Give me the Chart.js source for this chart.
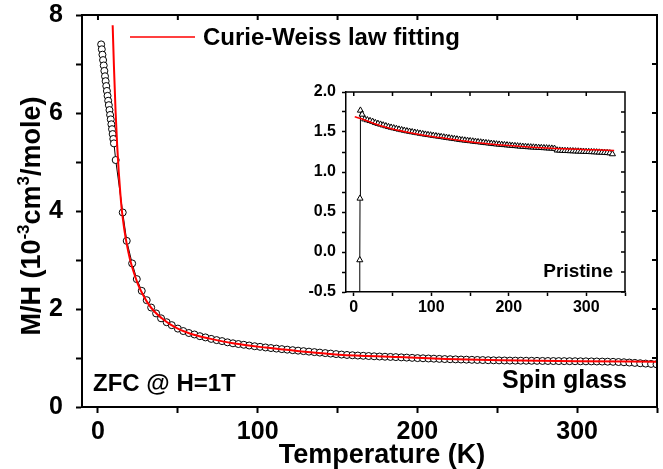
<!DOCTYPE html>
<html>
<head>
<meta charset="utf-8">
<script src="https://cdn.jsdelivr.net/npm/chart.js@4"></script>
<style>
  body { margin: 0; background: #fff; }
  #wrap { position: relative; width: 663px; height: 469px; }
  #main { position: absolute; left: 0; top: 0; }
  #inset { position: absolute; left: 290px; top: 80px; }
</style>
</head>
<body>
<div id="wrap">
  <canvas id="main" width="663" height="469"></canvas>
  <canvas id="inset" width="345" height="240"></canvas>
</div>
<script>
// ZFC M/H (10^-3 cm^3/mole) vs temperature (K), spin glass sample
const zfcTemp = [2.0, 2.4, 2.8, 3.2, 3.6, 4.0, 4.4, 4.8, 5.2, 5.6, 6.0, 6.4, 6.8, 7.2, 7.6, 8.0, 8.4, 8.8, 9.2, 9.6, 10.0,
  11.1, 15.5, 18.0, 21.4, 24.3, 27.4, 30.5, 33.3, 36.4, 39.5, 43.0, 46.2, 50.0, 53.4, 56.9, 60.4, 63.8, 67.3, 70.9,
  74.3, 77.7, 81.1, 84.5, 87.9, 91.3, 94.7, 98.1, 101.5, 104.9, 108.3, 111.7, 115.1, 118.5, 121.9, 125.3, 128.7, 132.1,
  135.5, 138.9, 142.3, 145.7, 149.1, 152.5, 155.9, 159.3, 162.7, 166.1, 169.5, 172.9, 176.3, 179.7, 183.1, 186.5,
  189.9, 193.3, 196.7, 200.1, 203.5, 206.9, 210.3, 213.7, 217.1, 220.5, 223.9, 227.3, 230.7, 234.1, 237.5, 240.9,
  244.3, 247.7, 251.1, 254.5, 257.9, 261.3, 264.7, 268.1, 271.5, 274.9, 278.3, 281.7, 285.1, 288.5, 291.9, 295.3,
  298.7, 302.1, 305.5, 308.9, 312.3, 315.7, 319.1, 322.5, 325.9, 329.3, 332.7, 336.1, 339.5, 342.9, 346.3, 349.7];
const zfcMH = [7.40, 7.30, 7.19, 7.08, 6.97, 6.86, 6.75, 6.65, 6.55, 6.45, 6.35, 6.25, 6.16, 6.06, 5.96, 5.87, 5.77, 5.67, 5.57, 5.47, 5.38,
  5.04, 3.97, 3.39, 2.93, 2.61, 2.37, 2.18, 2.03, 1.91, 1.81, 1.73, 1.67, 1.60, 1.55, 1.51, 1.48, 1.445, 1.42, 1.39,
  1.365, 1.345, 1.32, 1.30, 1.285, 1.27, 1.255, 1.24, 1.228, 1.215, 1.203, 1.192, 1.181, 1.17, 1.16, 1.15, 1.14, 1.13,
  1.12, 1.11, 1.10, 1.09, 1.08, 1.07, 1.062, 1.056, 1.05, 1.045, 1.04, 1.035, 1.03, 1.026, 1.022, 1.018,
  1.013, 1.008, 1.003, 0.998, 0.994, 0.99, 0.986, 0.982, 0.978, 0.975, 0.972, 0.969, 0.966, 0.963, 0.96, 0.958,
  0.955, 0.953, 0.951, 0.949, 0.947, 0.946, 0.945, 0.944, 0.943, 0.942, 0.94, 0.939, 0.938, 0.937, 0.936, 0.935,
  0.934, 0.933, 0.932, 0.931, 0.929, 0.927, 0.925, 0.922, 0.918, 0.913, 0.907, 0.90, 0.893, 0.886, 0.879, 0.872];

// Curie-Weiss fit (red)
const fitTemp = [9.2, 10.0, 11.0, 12.0, 13.0, 14.0, 15.0, 16.5, 18.0, 20.0, 22.0, 25.0, 28.0, 31.0, 35.0, 40.0, 45.0, 50.0,
  55.0, 60.0, 70.0, 84.5, 105, 126, 151, 185, 218, 252, 300, 350];
const fitMH = [7.79, 6.95, 6.05, 5.35, 4.80, 4.36, 4.00, 3.62, 3.33, 3.02, 2.79, 2.51, 2.30, 2.13, 1.96, 1.81, 1.69, 1.60,
  1.53, 1.475, 1.395, 1.30, 1.212, 1.14, 1.068, 1.022, 0.982, 0.952, 0.936, 0.925];

// inset: pristine sample
const pristineTemp = [7.5, 7.8, 8.1, 8.6, 10.8,
  14.2, 17.6, 21.0, 24.4, 27.8, 31.2, 34.6, 38.0, 41.4, 44.8, 48.2, 51.6, 55.0, 58.4, 61.8, 65.2, 68.6, 72.0, 75.4, 78.8,
  82.2, 85.6, 89.0, 92.4, 95.8, 99.2, 102.6, 106.0, 109.4, 112.8, 116.2, 119.6, 123.0, 126.4, 129.8, 133.2, 136.6, 140.0,
  143.4, 146.8, 150.2, 153.6, 157.0, 160.4, 163.8, 167.2, 170.6, 174.0, 177.4, 180.8, 184.2, 187.6, 191.0, 194.4, 197.8,
  201.2, 204.6, 208.0, 211.4, 214.8, 218.2, 221.6, 225.0, 228.4, 231.8, 235.2, 238.6, 242.0, 245.4, 248.8, 252.2, 255.6,
  259.0, 262.4, 265.8, 269.2, 272.6, 276.0, 279.4, 282.8, 286.2, 289.6, 293.0, 296.4, 299.8, 303.2, 306.6, 310.0, 313.4,
  316.8, 320.2, 323.6, 327.0, 330.4, 333.8];
const pristineMH = [-1.2, -0.1, 0.67, 1.77, 1.72,
  1.66, 1.65, 1.64, 1.63, 1.615, 1.605, 1.595, 1.585, 1.575, 1.565, 1.557, 1.549, 1.541, 1.533, 1.526, 1.519, 1.512, 1.506, 1.50, 1.494,
  1.488, 1.482, 1.476, 1.47, 1.465, 1.46, 1.455, 1.45, 1.445, 1.44, 1.435, 1.43, 1.425, 1.42, 1.415, 1.41, 1.405, 1.40,
  1.396, 1.392, 1.388, 1.384, 1.38, 1.376, 1.372, 1.368, 1.364, 1.36, 1.356, 1.352, 1.348, 1.345, 1.342, 1.339, 1.336,
  1.333, 1.33, 1.327, 1.324, 1.321, 1.318, 1.316, 1.313, 1.311, 1.309, 1.307, 1.305, 1.303, 1.301, 1.299, 1.297, 1.295,
  1.293, 1.272, 1.27, 1.268, 1.266, 1.265, 1.263, 1.262, 1.26, 1.259, 1.257, 1.256, 1.254, 1.253, 1.251, 1.25, 1.248,
  1.246, 1.244, 1.242, 1.24, 1.236, 1.225];
const pristineFitTemp = [1.3, 10, 25, 45, 68, 90, 111, 140, 170, 200, 230, 260, 290, 310, 336];
const pristineFitMH = [1.69, 1.665, 1.61, 1.55, 1.50, 1.46, 1.43, 1.39, 1.355, 1.33, 1.31, 1.295, 1.283, 1.277, 1.268];

// ticks
const tempTicks = [0, 50, 100, 150, 200, 250, 300, 350];
const mhTicks = [0, 1, 2, 3, 4, 5, 6, 7, 8];
const insetTicks = [-0.5, -0.25, 0, 0.25, 0.5, 0.75, 1.0, 1.25, 1.5, 1.75, 2.0];

const fitLabel = "Curie-Weiss law fitting";
const xTitle = "Temperature (K)";
const yTitleParts = [["M/H (10", false], ["-3", true], ["cm", false], ["3", true], ["/mole)", false]];
const noteField = "ZFC @ H=1T";
const noteMain = "Spin glass";
const noteInset = "Pristine";

const FAM = '"Liberation Sans", Arial, Helvetica, sans-serif';
const pairs = (xs, ys) => xs.map((x, i) => ({ x: x, y: ys[i] }));

// top and right frame with inward ticks
const boxFrame = {
  id: "boxFrame",
  afterDraw(chart, args, opts) {
    const { ctx, chartArea: a } = chart;
    const x = chart.scales.x, y = chart.scales.y;
    ctx.save();
    ctx.strokeStyle = "#000";
    ctx.lineWidth = opts.width;
    ctx.beginPath();
    ctx.moveTo(a.left, a.top);
    ctx.lineTo(a.right, a.top);
    ctx.lineTo(a.right, a.bottom);
    x.ticks.forEach(t => {
      const px = x.getPixelForValue(t.value);
      ctx.moveTo(px, a.top);
      ctx.lineTo(px, a.top + opts.len);
    });
    y.ticks.forEach(t => {
      const py = y.getPixelForValue(t.value);
      ctx.moveTo(a.right, py);
      ctx.lineTo(a.right - opts.len, py);
    });
    ctx.stroke();
    ctx.restore();
  }
};

// legend, notes and axis titles of the main plot
const mainText = {
  id: "mainText",
  afterDraw(chart) {
    const ctx = chart.ctx;
    const fit = chart.data.datasets[0];
    ctx.save();
    ctx.fillStyle = "#000";
    ctx.textBaseline = "alphabetic";

    ctx.strokeStyle = fit.borderColor;
    ctx.lineWidth = 1.5;
    ctx.beginPath();
    ctx.moveTo(130, 37);
    ctx.lineTo(195, 37);
    ctx.stroke();
    ctx.font = "bold 24px " + FAM;
    ctx.textAlign = "left";
    ctx.fillText(fit.label, 203, 45);

    ctx.fillText(noteField, 93, 391);
    ctx.font = "bold 25px " + FAM;
    ctx.textAlign = "right";
    ctx.fillText(noteMain, 627, 388);

    ctx.font = "bold 27px " + FAM;
    ctx.textAlign = "center";
    ctx.fillText(xTitle, 382, 463);

    // rotated y title with superscripts
    const base = "bold 27px " + FAM, sup = "bold 17px " + FAM;
    let total = 0;
    yTitleParts.forEach(p => { ctx.font = p[1] ? sup : base; total += ctx.measureText(p[0]).width; });
    ctx.translate(0, 216);
    ctx.rotate(-Math.PI / 2);
    ctx.textAlign = "left";
    let u = -total / 2;
    yTitleParts.forEach(p => {
      ctx.font = p[1] ? sup : base;
      ctx.fillText(p[0], u, p[1] ? 29 : 40);
      u += ctx.measureText(p[0]).width;
    });
    ctx.restore();
  }
};

const insetText = {
  id: "insetText",
  afterDraw(chart) {
    const ctx = chart.ctx;
    ctx.save();
    ctx.fillStyle = "#000";
    ctx.font = "bold 19px " + FAM;
    ctx.textAlign = "right";
    ctx.textBaseline = "alphabetic";
    ctx.fillText(noteInset, 323, 197);
    ctx.restore();
  }
};

// fixed axis box size, no extra padding for edge labels
function fixSize(key, size) {
  return s => {
    s[key] = size;
    s.paddingTop = 0;
    s.paddingBottom = 0;
    s.paddingLeft = 0;
    s.paddingRight = 0;
  };
}

function axisOpts(min, max, tickList, label, tickLen, pad, fontSize, border) {
  return {
    type: "linear",
    min: min,
    max: max,
    afterBuildTicks: s => { s.ticks = tickList.map(v => ({ value: v })); },
    ticks: {
      callback: label,
      color: "#000",
      font: { family: FAM, size: fontSize, weight: "bold" },
      padding: pad,
      autoSkip: false,
      maxRotation: 0
    },
    grid: { drawOnChartArea: false, drawTicks: true, tickLength: tickLen, tickWidth: border, color: "#000" },
    border: { display: true, width: border, color: "#000" }
  };
}

const mainX = axisOpts(-10, 350, tempTicks, v => (v % 100 === 0 ? String(v) : ""), 6, 4, 25, 2);
mainX.afterFit = fixSize("height", 62);
const mainY = axisOpts(0, 8, mhTicks, v => (v % 2 === 0 ? String(v) : ""), 6, 13, 25, 2);
mainY.afterFit = fixSize("width", 82);

new Chart(document.getElementById("main"), {
  type: "scatter",
  data: {
    datasets: [
      {
        label: fitLabel,
        data: pairs(fitTemp, fitMH),
        showLine: true,
        borderColor: "#ff0000",
        borderWidth: 2,
        pointRadius: 0,
        cubicInterpolationMode: "monotone",
        order: 0
      },
      {
        label: "ZFC",
        data: pairs(zfcTemp, zfcMH),
        showLine: true,
        borderColor: "#000",
        borderWidth: 1,
        pointRadius: 3.5,
        pointBackgroundColor: "#fff",
        pointBorderColor: "#000",
        pointBorderWidth: 1,
        order: 1
      }
    ]
  },
  options: {
    responsive: false,
    animation: false,
    layout: { padding: { top: 15, right: 6, left: 0, bottom: 0 } },
    scales: { x: mainX, y: mainY },
    plugins: {
      legend: { display: false },
      tooltip: { enabled: false },
      boxFrame: { width: 2, len: 5 }
    }
  },
  plugins: [boxFrame, mainText]
});

const insetX = axisOpts(-10, 350, tempTicks, v => (v % 100 === 0 ? String(v) : ""), 4, 2, 16, 1.5);
insetX.afterFit = fixSize("height", 28);
const insetY = axisOpts(-0.5, 2.0, insetTicks, v => (Math.abs(v * 2 - Math.round(v * 2)) < 1e-6 ? v.toFixed(1) : ""), 4, 6, 16, 1.5);
insetY.afterFit = fixSize("width", 56);

new Chart(document.getElementById("inset"), {
  type: "scatter",
  data: {
    datasets: [
      {
        label: "fit",
        data: pairs(pristineFitTemp, pristineFitMH),
        showLine: true,
        borderColor: "#ff0000",
        borderWidth: 1.5,
        pointRadius: 0,
        cubicInterpolationMode: "monotone",
        order: 0
      },
      {
        label: "Pristine",
        data: pairs(pristineTemp, pristineMH),
        showLine: true,
        borderColor: "#000",
        borderWidth: 1,
        pointStyle: "triangle",
        pointRadius: 3.5,
        pointBackgroundColor: "#fff",
        pointBorderColor: "#000",
        pointBorderWidth: 1,
        order: 1
      }
    ]
  },
  options: {
    responsive: false,
    animation: false,
    layout: { padding: { top: 12, right: 10, left: 0, bottom: 0 } },
    scales: { x: insetX, y: insetY },
    plugins: {
      legend: { display: false },
      tooltip: { enabled: false },
      boxFrame: { width: 1.5, len: 4 }
    }
  },
  plugins: [boxFrame, insetText]
});
</script>
</body>
</html>
